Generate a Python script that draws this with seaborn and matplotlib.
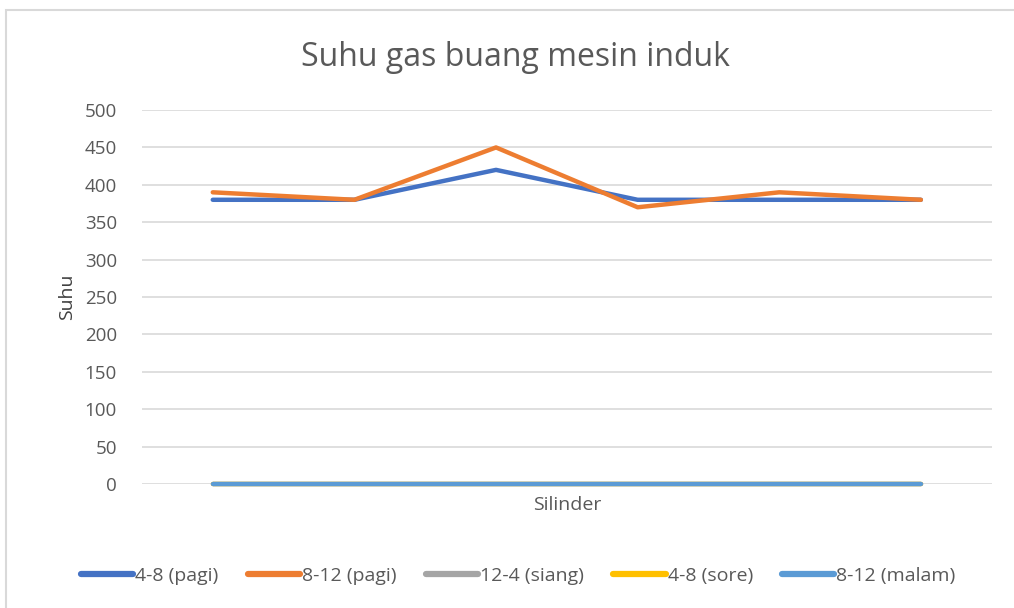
import pandas as pd
import matplotlib.pyplot as plt
import seaborn as sns
from matplotlib.patches import Rectangle

# Data
silinder = [1, 2, 3, 4, 5, 6]
pagi_4_8 = [380, 380, 420, 380, 380, 380]
pagi_8_12 = [390, 380, 450, 370, 390, 380]
siang_12_4 = [0, 0, 0, 0, 0, 0]
sore_4_8 = [0, 0, 0, 0, 0, 0]
malam_8_12 = [0, 0, 0, 0, 0, 0]

series_names = ["4-8 (pagi)", "8-12 (pagi)", "12-4 (siang)", "4-8 (sore)", "8-12 (malam)"]
series_values = [pagi_4_8, pagi_8_12, siang_12_4, sore_4_8, malam_8_12]
colors = ["#4472C4", "#ED7D31", "#A5A5A5", "#FFC000", "#5B9BD5"]

rows = []
for name, vals in zip(series_names, series_values):
    for i, v in enumerate(vals):
        rows.append({"pos": i, "Silinder": silinder[i], "Suhu": v, "Shift": name})
df = pd.DataFrame(rows)

sns.set_theme(style="white")
plt.rcParams["font.family"] = ["Open Sans", "DejaVu Sans"]

fig = plt.figure(figsize=(10.14, 6.08), dpi=100)
ax = fig.add_axes([0.140, 0.204, 0.838, 0.615])

# chart frame
fig.patches.append(Rectangle((0.006, -0.01), 1.0, 0.993, transform=fig.transFigure,
                             fill=False, edgecolor="#D9D9D9", linewidth=1.5))

sns.lineplot(data=df, x="pos", y="Suhu", hue="Shift", palette=colors,
             hue_order=series_names, linewidth=3.2, ax=ax, legend=False,
             solid_capstyle="round")
for ln in ax.lines:
    ln.set_clip_on(False)

ax.set_xlim(-0.5, 5.5)
ax.set_ylim(0, 500)
ax.set_yticks(range(0, 501, 50))
ax.set_xticks([])
ax.grid(axis="y", color="#D9D9D9", linewidth=1.2)
ax.set_axisbelow(True)
for s in ax.spines.values():
    s.set_visible(False)
ax.tick_params(axis="y", labelsize=13.5, colors="#595959", length=0, pad=18)

ax.set_xlabel("Silinder", fontsize=14, color="#595959", labelpad=9)
ax.set_ylabel("Suhu", fontsize=14, color="#404040", labelpad=6)
fig.text(0.508, 0.905, "Suhu gas buang mesin induk", ha="center", va="center",
         fontsize=23, color="#595959")

handles = [plt.Line2D([0], [0], color=c, linewidth=4.5, solid_capstyle="round")
           for c in colors]
fig.legend(handles, series_names, loc="center", bbox_to_anchor=(0.511, 0.053),
           ncol=5, frameon=False, fontsize=14, handlelength=2.7,
           handletextpad=0.1, columnspacing=1.5, labelcolor="#595959")

fig.savefig("out.png", dpi=100)
